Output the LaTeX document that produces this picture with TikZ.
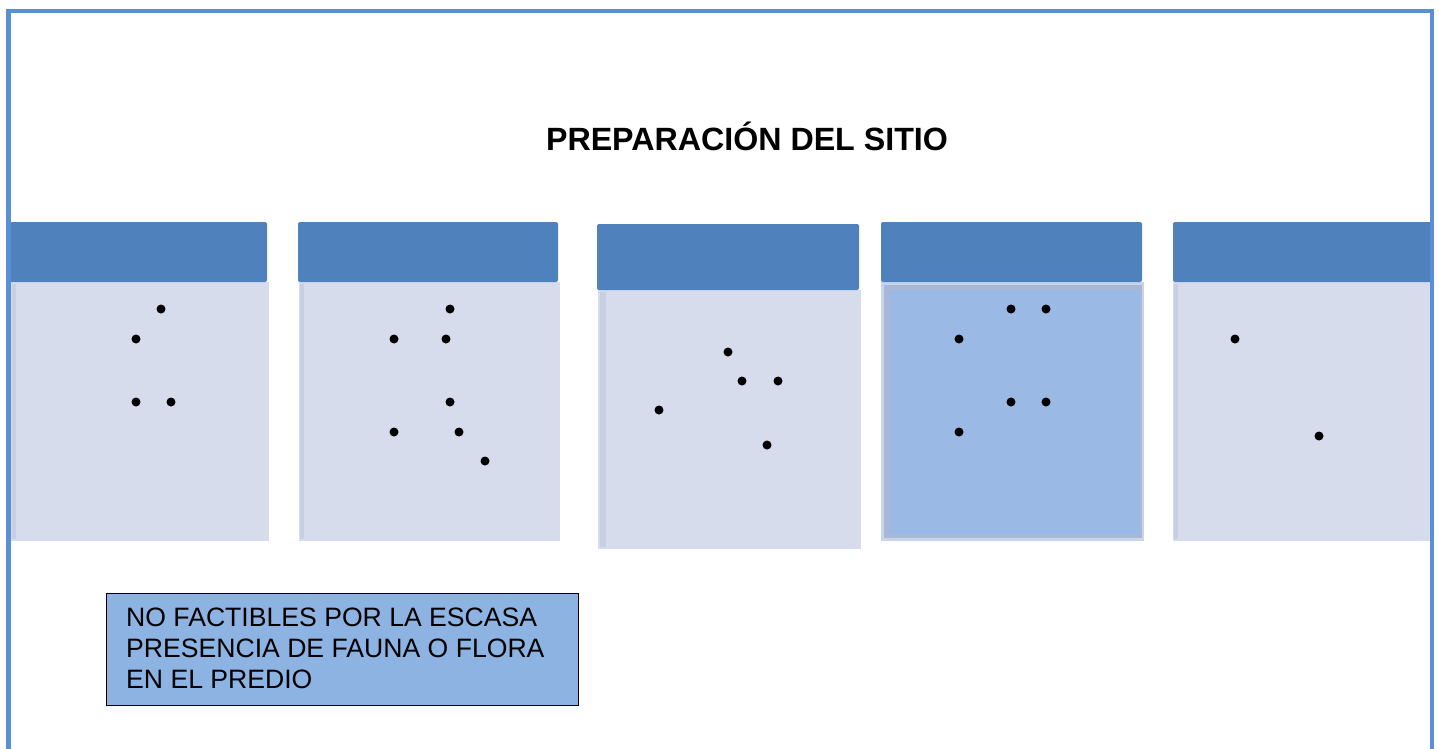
\documentclass[tikz,border=0pt]{standalone}
\usepackage{fontspec}
\setmainfont{Liberation Sans}
\definecolor{frameblue}{RGB}{88,143,214}
\definecolor{headblue}{RGB}{79,129,189}
\definecolor{bodygrey}{RGB}{214,220,236}
\definecolor{bodyedge}{RGB}{200,207,226}
\definecolor{hlblue}{RGB}{155,185,229}
\definecolor{hledge}{RGB}{168,184,214}
\definecolor{hlouter}{RGB}{200,212,236}
\definecolor{noteblue}{RGB}{141,179,226}
\tikzset{
  headbox/.style={fill=headblue, draw=none, rounded corners=2pt},
  bodybox/.style={fill=bodygrey, draw=none},
  dotmark/.style={fill=black},
  notetext/.style={anchor=base west, inner sep=0pt, font=\fontsize{26.6}{31}\selectfont},
}
\begin{document}
\begin{tikzpicture}[x=1pt,y=-1pt]
\useasboundingbox (0,0) rectangle (1439,748);
\fill[white] (0,0) rectangle (1439,748);
% title
\node[font=\bfseries\fontsize{32.2}{36}\selectfont, anchor=base, inner sep=0pt] (title) at (747,150) {PREPARACIÓN DEL SITIO};
% column 1
\fill[bodybox] (10,282) rectangle (269,541);
\fill[bodyedge] (12,284) rectangle (16,539);
\fill[headbox] (10,282) -- (10,222) -- (267,222) -- (267,282) -- cycle;
% column 2
\fill[bodybox] (299,282) rectangle (560,541);
\fill[bodyedge] (300,284) rectangle (304,539);
\fill[headbox] (298,282) -- (298,222) -- (558,222) -- (558,282) -- cycle;
% column 3
\fill[bodybox] (598,290) rectangle (861,549);
\fill[bodyedge] (600,292) rectangle (606,547);
\fill[headbox] (597,290) -- (597,224) -- (859,224) -- (859,290) -- cycle;
% column 4 (highlighted)
\fill[hlouter] (881,282) rectangle (1144,541);
\fill[hledge] (884,285) rectangle (1142,538);
\fill[hlblue] (889,290) rectangle (1140,534);
\fill[headbox] (881,282) -- (881,222) -- (1142,222) -- (1142,282) -- cycle;
% column 5
\fill[bodybox] (1173,282) rectangle (1432,541);
\fill[bodyedge] (1174,284) rectangle (1178,539);
\fill[headbox] (1173,282) -- (1173,222) -- (1432,222) -- (1432,282) -- cycle;
% bullets
\foreach \p in {(161,309),(136,339),(136,402),(171,402),
  (450,309),(394,339),(446,339),(450,402),(394,432),(459,432),(485,461),
  (728,352),(742,381),(778,381),(659,410),(767,445),
  (1011,309),(1046,309),(959,339),(1011,402),(1046,402),(959,432),
  (1235,339),(1319,436)}
  \fill[dotmark] \p circle (4.5);
% note box
\node[draw=black, line width=1pt, fill=noteblue, minimum width=472pt, minimum height=112pt, anchor=north west, inner sep=0pt] (note) at (105.5,592.5) {};
\node[notetext] (note1) at (126,626) {NO FACTIBLES POR LA ESCASA};
\node[notetext] (note2) at (126,657.5) {PRESENCIA DE FAUNA O FLORA};
\node[notetext] (note3) at (126,688) {EN EL PREDIO};
% outer frame
\draw[frameblue, line width=4.2pt] (8.5,760) -- (8.5,11) -- (1432,11) -- (1432,760);
\end{tikzpicture}
\end{document}
